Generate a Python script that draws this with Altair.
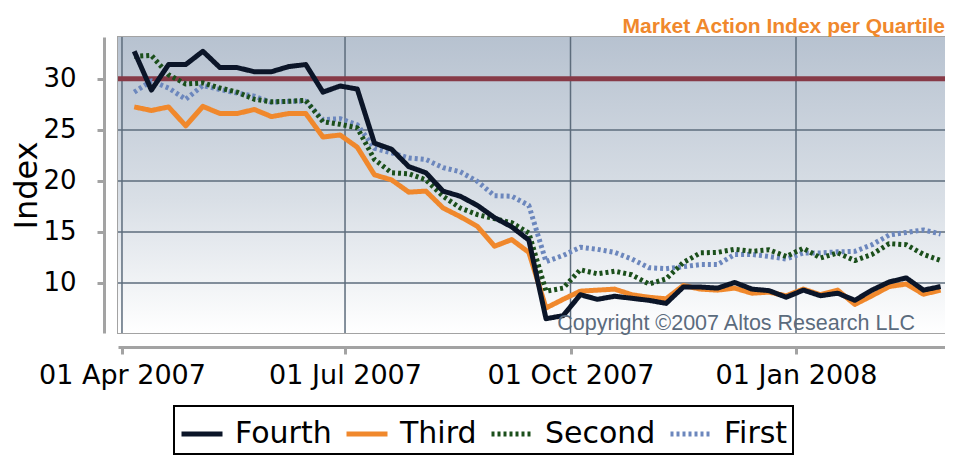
import altair as alt
import pandas as pd

# ---------------- data ----------------
dates = pd.date_range("2007-04-06", periods=48, freq="7D").strftime("%Y-%m-%d").tolist()

fourth = [32.7, 28.9, 31.4, 31.4, 32.7, 31.1, 31.1, 30.7, 30.7, 31.2, 31.4, 28.7, 29.3,
          29.0, 23.7, 23.1, 21.4, 20.8, 19.0, 18.5, 17.6, 16.4, 15.5, 14.2, 6.5,
          6.8, 8.85, 8.4, 8.7, 8.5, 8.3, 8.0, 9.6, 9.6, 9.5, 10.05, 9.4,
          9.25, 8.6, 9.3, 8.75, 9.0, 8.3, 9.3, 10.1, 10.5, 9.3, 9.65]
third = [27.25, 26.9, 27.25, 25.4, 27.3, 26.6, 26.6, 27.0, 26.3, 26.6, 26.6, 24.3, 24.5,
         23.3, 20.6, 20.1, 18.9, 19.0, 17.35, 16.5, 15.55, 13.6, 14.25, 13.0, 7.55,
         8.4, 9.2, 9.3, 9.4, 8.85, 8.6, 8.45, 9.75, 9.4, 9.3, 9.5, 9.0,
         9.1, 8.75, 9.4, 8.85, 9.3, 7.9, 8.75, 9.65, 9.9, 8.9, 9.3]
second = [32.2, 32.3, 30.4, 29.5, 29.6, 29.1, 28.7, 28.0, 27.75, 27.8, 27.9, 25.8, 25.55,
          25.2, 22.1, 20.8, 20.7, 20.1, 18.5, 17.35, 16.7, 16.3, 15.9, 14.9, 9.2,
          9.5, 11.3, 10.9, 11.15, 10.8, 9.9, 10.4, 12.0, 12.95, 13.0, 13.3, 13.1,
          13.25, 12.6, 13.4, 12.45, 12.95, 12.2, 12.8, 13.85, 13.75, 12.8, 12.2]
first = [28.7, 29.8, 29.1, 28.0, 29.35, 28.95, 28.6, 28.3, 27.7, 27.8, 27.8, 26.0, 26.1,
         25.5, 23.2, 22.75, 22.25, 22.1, 21.3, 20.9, 19.95, 18.55, 18.5, 17.6, 12.1,
         12.7, 13.5, 13.3, 13.0, 12.35, 11.5, 11.4, 11.6, 11.8, 11.8, 12.8, 12.8,
         12.6, 12.35, 12.95, 12.95, 13.05, 13.1, 13.75, 14.7, 14.95, 15.2, 14.8]

names = ["Fourth", "Third", "Second", "First"]
colors = ["#0b1528", "#f0882c", "#1b4f1b", "#6c87bd"]

x_ticks = ["2007-04-01", "2007-07-01", "2007-10-01", "2008-01-01"]
y_ticks = [10, 15, 20, 25, 30]
threshold = 30

# long table, First drawn first so Fourth ends on top
df = pd.DataFrame({
    "date": dates * 4,
    "value": first + second + third + fourth,
    "quartile": ["First"] * 48 + ["Second"] * 48 + ["Third"] * 48 + ["Fourth"] * 48,
})

def ms(s):
    return int(pd.Timestamp(s, tz="UTC").value // 10**6)

W, H = 827, 296
FONT = "DejaVu Sans"

x_scale = alt.Scale(type="utc", domain=[ms("2007-03-30 09:00"), ms("2008-03-01 19:00")])
y_scale = alt.Scale(domain=[5.1, 34.1], nice=False, zero=False)

x_axis = alt.Axis(values=[ms(t) for t in x_ticks], format="%d %b %Y", title=None, grid=False,
                  offset=14, domainColor="#a3a3a3", domainWidth=3, tickColor="#a3a3a3",
                  tickWidth=3, tickSize=7, labelPadding=8, labelFontSize=27, labelFont=FONT,
                  labelColor="black", labelFlush=False)
y_axis = alt.Axis(values=y_ticks, title="Index", grid=False, offset=14,
                  domainColor="#a3a3a3", domainWidth=3, tickColor="#a3a3a3", tickWidth=3,
                  tickSize=7, labelPadding=21, labelFontSize=26, labelFont=FONT,
                  labelColor="black", titleFontSize=32, titleFont=FONT,
                  titleFontWeight="normal", titleColor="black", titlePadding=-1)

def X(field):
    return alt.X(field, scale=x_scale, axis=x_axis)

def Y(field):
    return alt.Y(field, scale=y_scale, axis=y_axis)

gradient = alt.LinearGradient(
    gradient="linear",
    stops=[alt.GradientStop(color="#b7c2d0", offset=0),
           alt.GradientStop(color="#d9dfe6", offset=0.55),
           alt.GradientStop(color="#ffffff", offset=1)],
    x1=0, x2=0, y1=0, y2=1,
)

bg = alt.Chart(alt.Data(values=[{}])).mark_rect(color=gradient).encode(
    x=alt.value(0), x2=alt.value(W), y=alt.value(0), y2=alt.value(H)
)

hgrid = alt.Chart(pd.DataFrame({"g": y_ticks})).mark_rule(
    color="#5d6c7c", strokeWidth=1.5).encode(y=Y("g:Q"))
vgrid = alt.Chart(pd.DataFrame({"t": x_ticks})).mark_rule(
    color="#5d6c7c", strokeWidth=1.5).encode(x=X("t:T"))

red = alt.Chart(alt.Data(values=[{}])).mark_rule(color="#873a47", strokeWidth=5).encode(
    y=alt.datum(threshold, scale=y_scale, axis=y_axis)
)

leg = dict(title=None, orient="none", legendX=56, legendY=369, direction="horizontal")

lines = alt.Chart(df).mark_line(strokeJoin="round", strokeCap="butt").encode(
    x=X("date:T"),
    y=Y("value:Q"),
    color=alt.Color("quartile:N", scale=alt.Scale(domain=names, range=colors),
                    legend=alt.Legend(**leg)),
    strokeDash=alt.StrokeDash("quartile:N",
                              scale=alt.Scale(domain=names, range=[[1, 0], [1, 0], [3, 3], [3, 3]]),
                              legend=alt.Legend(**leg)),
    strokeWidth=alt.StrokeWidth("quartile:N",
                                scale=alt.Scale(domain=names, range=[5, 5, 3.5, 3.5]),
                                legend=None),
)

copyright_txt = alt.Chart(alt.Data(values=[{}])).mark_text(
    text="Copyright ©2007 Altos Research LLC", align="right", baseline="alphabetic",
    font="Liberation Sans", fontSize=21.5, color="#5b6b7d"
).encode(x=alt.value(797), y=alt.value(293))

chart = alt.layer(bg, hgrid, vgrid, red, lines, copyright_txt).properties(
    width=W, height=H,
    title=alt.TitleParams("Market Action Index per Quartile", anchor="end", frame="group",
                          fontSize=21, font="Liberation Sans", fontWeight="bold",
                          color="#f0882c", offset=-1),
    padding={"left": 110, "top": 29, "right": 0, "bottom": 130},
    autosize=alt.AutoSizeParams(type="none"),
    background="white",
).configure_view(
    stroke="#a3a3a3", strokeWidth=2
).configure_legend(
    strokeColor="black", strokeWidth=2, padding=5, labelFontSize=30, labelFont=FONT,
    labelColor="black", symbolType="stroke", symbolSize=1681, symbolStrokeWidth=5,
    labelOffset=10, columnPadding=4,
)

chart.save("out.html", embed_options={"renderer": "svg", "actions": False})
